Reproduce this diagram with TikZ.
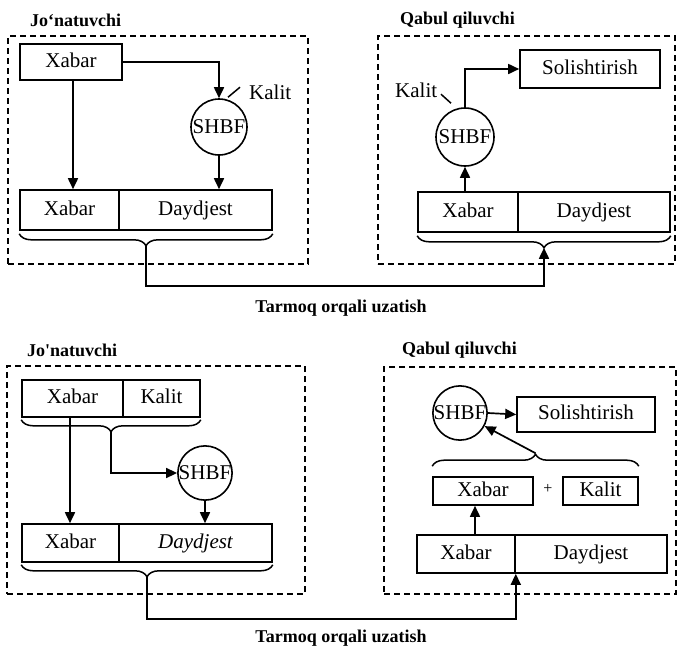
\documentclass[tikz,border=0pt]{standalone}
\usepackage{fontspec}
\setmainfont{Liberation Serif}
\usetikzlibrary{arrows.meta,decorations.pathreplacing,calc}
\begin{document}
\begin{tikzpicture}[x=1pt,y=-1pt,
  box/.style={draw,line width=1.6pt,inner sep=0pt,text height=14pt,text depth=4pt,font=\fontsize{21}{23}\selectfont},
  hashf/.style={draw,circle,line width=1.6pt,inner sep=0pt,font=\fontsize{21}{23}\selectfont},
  dbox/.style={draw,line width=1.3pt,dash pattern=on 6pt off 4pt,inner sep=0pt},
  ttl/.style={font=\bfseries\fontsize{18}{20}\selectfont,inner sep=0pt},
  lbl/.style={font=\fontsize{21}{23}\selectfont,inner sep=0pt},
  arr/.style={line width=1.7pt,-{Triangle[length=11pt,width=10pt]}},
  ln/.style={line width=1.5pt},
  brc/.style={line width=1.5pt,decorate,decoration={brace,amplitude=12pt}},
  brcm/.style={line width=1.5pt,decorate,decoration={brace,amplitude=12pt,mirror}}]
\useasboundingbox (0,0) rectangle (680,648);

% ===== Top half =====
\node[ttl,anchor=west] (ttlA) at (30,20) {Jo‘natuvchi};
\node[ttl,anchor=west] (ttlB) at (400,20) {Qabul qiluvchi};
\node[dbox,minimum width=300pt,minimum height=228pt] (sA) at (158,150) {};
\node[dbox,minimum width=297pt,minimum height=228pt] (rA) at (526.5,150) {};

\node[box,minimum width=102pt,minimum height=36pt] (aX) at (71,62) {Xabar};
\node[hashf,minimum size=56pt] (aH) at (219,127) {SHBF};
\node[lbl,anchor=west] (aK) at (249,92) {Kalit};
\draw[ln] ($(aH.north)+(9,-1)$) coordinate (aKt) -- ++(12,-10);
\node[box,minimum width=99pt,minimum height=40pt] (aB1) at (69.5,210) {Xabar};
\node[box,minimum width=153pt,minimum height=40pt] (aB2) at (195.5,210) {Daydjest};
\coordinate (aXd) at ($(aX.south)+(2,0)$);
\coordinate (aXe) at (aXd |- aB1.north);
\draw[arr] (aXd) -- (aXe);
\draw[arr] (aX.east) -| (aH.north);
\coordinate (aHe) at (aH.south |- aB2.north);
\draw[arr] (aH.south) -- (aHe);
\draw[brcm] ($(aB1.south west)+(0,3)$) -- ($(aB2.south east)+(0,3)$);
\coordinate (aT) at ($(aB1.south west)!0.5!(aB2.south east)+(0,15)$);

\node[box,minimum width=140pt,minimum height=38pt] (bS) at (590,69) {Solishtirish};
\node[hashf,minimum size=58pt] (bH) at (465,137) {SHBF};
\node[lbl,anchor=west] (bK) at (395,90) {Kalit};
\draw[ln] ($(bH.north)+(-14,-4)$) -- ++(-10,-9);
\node[box,minimum width=100pt,minimum height=40pt] (bB1) at (468,212) {Xabar};
\node[box,minimum width=152pt,minimum height=40pt] (bB2) at (594,212) {Daydjest};
\draw[arr] (bH.north) |- (bS.west);
\coordinate (bHs) at (bH.south |- bB1.north);
\draw[arr] (bHs) -- (bH.south);
\draw[brcm] ($(bB1.south west)+(0,3)$) -- ($(bB2.south east)+(0,3)$);
\coordinate (bT) at ($(bB1.south west)!0.5!(bB2.south east)+(0,15)$);
\coordinate (abM) at ($(bT)+(0,38)$);

\draw[arr] (aT) |- (abM) -- (bT);
\node[ttl] (netA) at (341,308) {Tarmoq orqali uzatish};

% ===== Bottom half =====
\node[ttl,anchor=west] (ttlC) at (27,350) {Jo\textquotesingle natuvchi};
\node[ttl,anchor=west] (ttlD) at (402,350) {Qabul qiluvchi};
\node[dbox,minimum width=298pt,minimum height=228pt] (sC) at (156,480) {};
\node[dbox,minimum width=292pt,minimum height=227pt] (rC) at (530,480.5) {};

\node[box,minimum width=101pt,minimum height=37pt] (cX) at (72.5,398.5) {Xabar};
\node[box,minimum width=77pt,minimum height=37pt] (cK) at (161.5,398.5) {Kalit};
\draw[brcm] ($(cX.south west)+(0,2)$) -- ($(cK.south east)+(0,2)$);
\coordinate (cT) at ($(cX.south west)!0.5!(cK.south east)+(0,14)$);
\node[hashf,minimum size=54pt] (cH) at (205,473) {SHBF};
\node[box,minimum width=97pt,minimum height=38pt] (cB1) at (70.5,543) {Xabar};
\node[box,minimum width=153pt,minimum height=38pt] (cB2) at (195.5,543) {\itshape Daydjest};
\draw[arr] (cT) |- (cH.west);
\coordinate (cXd) at ($(cX.south)+(-2.5,0)$);
\coordinate (cXe) at (cXd |- cB1.north);
\draw[arr] (cXd) -- (cXe);
\coordinate (cHe) at (cH.south |- cB2.north);
\draw[arr] (cH.south) -- (cHe);
\draw[brcm] ($(cB1.south west)+(0,2)$) -- ($(cB2.south east)+(0,2)$);
\coordinate (cT2) at ($(cB1.south west)!0.5!(cB2.south east)+(0,14)$);

\node[hashf,minimum size=52pt] (dH) at (460,413) {SHBF};
\node[box,minimum width=138pt,minimum height=35pt] (dS) at (586,414.5) {Solishtirish};
\draw[arr] (dH.east) -- (dS.west);
\node[box,minimum width=100pt,minimum height=28pt] (dX) at (483,491) {Xabar};
\node[lbl] (dP) at (548,489) {\fontsize{16}{18}\selectfont +};
\node[box,minimum width=75pt,minimum height=28pt] (dK) at (600.5,491) {Kalit};
\draw[brc] ($(dX.north west)+(0,-10)$) -- ($(dK.north east)+(0,-10)$);
\coordinate (dT) at ($(dX.north west)!0.5!(dK.north east)+(0,-23)$);
\draw[arr] (dT) -- (dH);
\node[box,minimum width=98pt,minimum height=38pt] (dB1) at (466,554) {Xabar};
\node[box,minimum width=152pt,minimum height=38pt] (dB2) at (591,554) {Daydjest};
\coordinate (dXs) at ($(dX.south)+(-8,0)$);
\coordinate (dXb) at (dXs |- dB1.north);
\draw[arr] (dXb) -- (dXs);

\coordinate (cdM) at ($(dB1.south east)+(0,45)$);
\draw[arr] (cT2) |- (cdM) -- (dB1.south east);
\node[ttl] (netC) at (341,638) {Tarmoq orqali uzatish};
\end{tikzpicture}
\end{document}
